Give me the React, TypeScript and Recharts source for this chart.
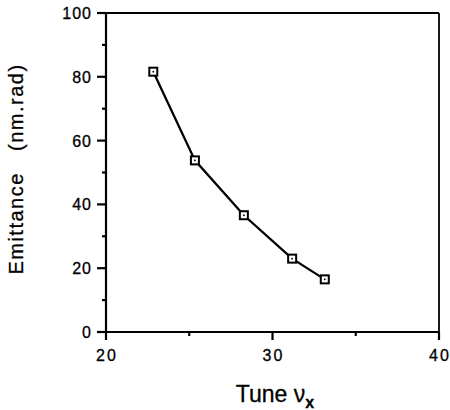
import React from 'react';
import { LineChart, Line, XAxis, YAxis, ReferenceLine } from 'recharts';

// tune vs emittance
const tune = [22.84, 25.34, 28.28, 31.18, 33.14];
const emittance = [81.6, 53.8, 36.6, 23.0, 16.5];
const xTicks = [20, 25, 30, 35, 40];
const yTicks = [0, 10, 20, 30, 40, 50, 60, 70, 80, 90, 100];

const data = tune.map((t, i) => ({ tune: t, emittance: emittance[i] }));

const FONT = '"Liberation Sans", Arial, Helvetica, sans-serif';

const XTick = (props: any) => {
  const { x, y, payload } = props;
  const major = payload.value % 10 === 0;
  return (
    <g>
      <line x1={x} x2={x} y1={y} y2={y + (major ? 8 : 4)} stroke="#000" strokeWidth={2.2} />
      {major && (
        <text x={x + 1} y={y + 29} textAnchor="middle" fontFamily={FONT} fontSize={16} letterSpacing={2} fill="#000" stroke="#000" strokeWidth={0.3}>
          {payload.value}
        </text>
      )}
    </g>
  );
};

const YTick = (props: any) => {
  const { x, y, payload } = props;
  const major = payload.value % 20 === 0;
  return (
    <g>
      <line x1={x} x2={x - (major ? 9 : 4)} y1={y} y2={y} stroke="#000" strokeWidth={2.2} />
      {major && (
        <text x={x - 14} y={y + 6} textAnchor="end" fontFamily={FONT} fontSize={16} letterSpacing={1} fill="#000" stroke="#000" strokeWidth={0.3}>
          {payload.value}
        </text>
      )}
    </g>
  );
};

const SquareDot = (props: any) => {
  const { cx, cy } = props;
  if (cx == null || cy == null) return null;
  return (
    <g>
      <rect x={cx - 4} y={cy - 4} width={8} height={8} fill="#fff" stroke="#000" strokeWidth={2} />
      <rect x={cx - 0.8} y={cy - 0.8} width={1.6} height={1.6} fill="#000" />
    </g>
  );
};

export default function App() {
  return (
    <div style={{ position: 'absolute', left: 0, top: 0, width: 450, height: 410, background: '#fff' }}>
      <LineChart width={450} height={410} data={data} margin={{ top: 13, right: 11, bottom: 0, left: 0 }}>
        <XAxis
          dataKey="tune"
          type="number"
          domain={[20, 40]}
          ticks={xTicks}
          interval={0}
          height={78}
          tickSize={0}
          tickMargin={0}
          tickLine={false}
          axisLine={{ stroke: '#000', strokeWidth: 2.2 }}
          tick={<XTick />}
        />
        <YAxis
          type="number"
          domain={[0, 100]}
          ticks={yTicks}
          interval={0}
          width={106}
          tickSize={0}
          tickMargin={0}
          tickLine={false}
          axisLine={{ stroke: '#000', strokeWidth: 2.2 }}
          tick={<YTick />}
        />
        <ReferenceLine y={100} stroke="#000" strokeWidth={2} />
        <ReferenceLine x={40} stroke="#000" strokeWidth={1.8} />
        <Line
          dataKey="emittance"
          type="linear"
          stroke="#000"
          strokeWidth={2.3}
          dot={<SquareDot />}
          isAnimationActive={false}
        />
      </LineChart>
      <svg width={450} height={410} style={{ position: 'absolute', left: 0, top: 0, pointerEvents: 'none' }}>
        <text x={275} y={402} textAnchor="middle" fontFamily={FONT} fontSize={23} fill="#000" stroke="#000" strokeWidth={0.3}>
          Tune ν<tspan fontSize={16} dy={6} fontWeight="bold">x</tspan>
        </text>
        <text
          x={23}
          y={169}
          transform="rotate(-90 23 169)"
          textAnchor="middle"
          fontFamily={FONT}
          fontSize={20}
          letterSpacing={1.5}
          fill="#000"
          stroke="#000"
          strokeWidth={0.3}
          style={{ whiteSpace: 'pre' }}
        >
          {'Emittance   (nm.rad)'}
        </text>
      </svg>
    </div>
  );
}
